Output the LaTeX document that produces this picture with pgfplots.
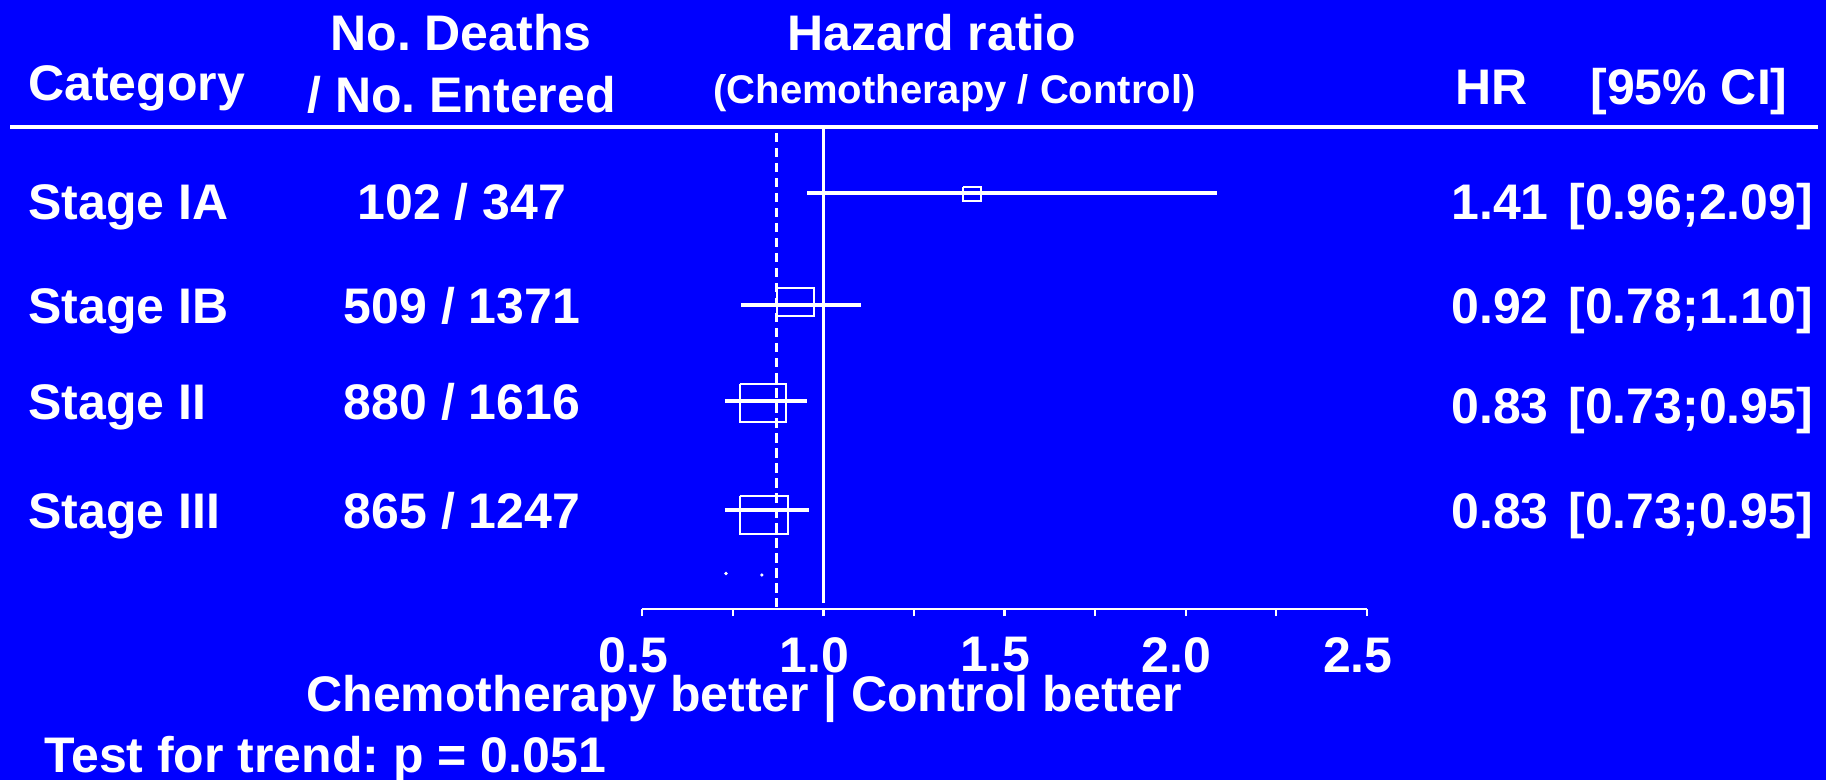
\documentclass[border=0pt]{standalone}
\usepackage{pgfplots}
\pgfplotsset{compat=1.18}
\usepackage{fontspec}
\setmainfont{Liberation Sans}
\definecolor{bgblue}{RGB}{0,0,255}
\newcommand{\bigf}{\fontsize{25pt}{30pt}\selectfont\bfseries}
\newcommand{\subf}{\fontsize{20pt}{24pt}\selectfont\bfseries}
\frenchspacing
\begin{document}
\frenchspacing
\begin{tikzpicture}
\begin{scope}[x=0.5pt,y=-0.5pt]
\fill[bgblue] (0,0) rectangle (1826,780);
\draw[white, line width=2pt] (10,127.3) -- (1818.3,127.3);
\tikzset{t/.style={anchor=base west, inner sep=0pt, text=white, font=\bigf}}
% headers
\node[t] at (28,101) {Category};
\node[t] at (330,50.5) {No. Deaths};
\node[t] at (307,112.5) {/ No. Entered};
\node[t] at (787,50.5) {Hazard ratio};
\node[t, font=\subf] at (713,104) {(Chemotherapy / Control)};
\node[t] at (1455,105) {HR};
\node[t] at (1590,105) {[95\% CI]};
% rows
\node[t] at (28,220) {Stage IA};
\node[t] at (28,324) {Stage IB};
\node[t] at (28,420) {Stage II};
\node[t] at (28,529) {Stage III};
\node[t, anchor=base] at (462,220) {102 / 347};
\node[t, anchor=base] at (462,324) {509 / 1371};
\node[t, anchor=base] at (462,420) {880 / 1616};
\node[t, anchor=base] at (462,529) {865 / 1247};
\node[t] at (1451,220) {1.41};
\node[t] at (1451,324) {0.92};
\node[t] at (1451,424) {0.83};
\node[t] at (1451,529) {0.83};
\node[t] at (1568,220) {[0.96;2.09]};
\node[t] at (1568,324) {[0.78;1.10]};
\node[t] at (1568,424) {[0.73;0.95]};
\node[t] at (1568,529) {[0.73;0.95]};
% bottom
\node[t] at (306,711) {Chemotherapy better | Control better};
\node[t] at (44,772) {Test for trend: p = 0.051};
\end{scope}
\begin{axis}[
  at={(321.15pt,-63.5pt)}, anchor=north west,
  scale only axis, width=362.25pt, height=241pt,
  xmin=0.5, xmax=2.5, ymin=-609, ymax=-127,
  enlargelimits=false, clip=false,
  axis x line*=bottom, axis y line=none,
  axis line style={white, line width=1.2pt},
  xtick={0.5,1,1.5,2,2.5}, xticklabels={0.5,1.0,1.5,2.0,2.5},
  minor xtick={0.75,1.25,1.75,2.25},
  ytick=\empty,
  tick align=outside,
  major tick length=3.5pt, minor tick length=3.5pt,
  every tick/.style={white, line width=1.1pt},
  xticklabel style={font=\bigf, text=white, inner sep=0pt, anchor=north, yshift=-10.5pt, xshift=-4.5pt},
]
\addplot[white, line width=1.8pt] coordinates {(1,-129) (1,-603)};
\addplot[white, line width=1.7pt, dash pattern=on 4.75pt off 2.75pt] coordinates {(0.871,-133) (0.871,-607)};
% CI lines
\addplot[white, line width=2pt] coordinates {(0.956,-193) (2.086,-193)};
\addplot[white, line width=2pt] coordinates {(0.772,-304.7) (1.104,-304.7)};
\addplot[white, line width=2pt] coordinates {(0.728,-400.7) (0.954,-400.7)};
\addplot[white, line width=2pt] coordinates {(0.728,-510.3) (0.959,-510.3)};
% boxes
\addplot[white, line width=1pt, line join=miter] coordinates {(1.386,-187.3) (1.434,-187.3) (1.434,-200.7) (1.386,-200.7) (1.386,-187.3)};
\addplot[white, line width=1pt, line join=miter] coordinates {(0.873,-287.7) (0.975,-287.7) (0.975,-316) (0.873,-316) (0.873,-287.7)};
\addplot[white, line width=1pt, line join=miter] coordinates {(0.769,-383.7) (0.898,-383.7) (0.898,-422) (0.769,-422) (0.769,-383.7)};
\addplot[white, line width=1pt, line join=miter] coordinates {(0.769,-495.7) (0.902,-495.7) (0.902,-534) (0.769,-534) (0.769,-495.7)};
% tiny remnants
\addplot[only marks, white, mark=*, mark size=0.6pt] coordinates {(0.731,-573.5) (0.830,-575)};
\end{axis}
\pgfresetboundingbox
\path (0,0) rectangle (913pt,-390pt);
\end{tikzpicture}
\end{document}
